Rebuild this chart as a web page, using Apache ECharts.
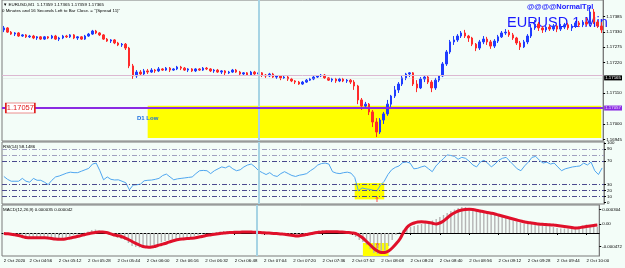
<!DOCTYPE html>
<html><head><meta charset="utf-8">
<script src="https://cdn.jsdelivr.net/npm/echarts@6/dist/echarts.min.js"></script>
<style>html,body{margin:0;padding:0;background:#f3fdf8}#c{width:625px;height:268px}</style>
</head><body><div id="c"></div>
<script>
// ---- categories: 2-minute bars starting 04:42 ----
const firstBar = '04:42';
const barMinutes = 2;
const barCount = 163;
const categories = [];
(function(){ let m = 4*60+42; for (let k=0;k<barCount;k++,m+=barMinutes){ categories.push(String(Math.floor(m/60)).padStart(2,'0')+':'+String(m%60).padStart(2,'0')); } })();

const timeTickLabels = ['2 Oct 2020','2 Oct 04:56','2 Oct 05:12','2 Oct 05:28','2 Oct 05:44','2 Oct 06:00','2 Oct 06:16','2 Oct 06:32','2 Oct 06:48','2 Oct 07:04','2 Oct 07:20','2 Oct 07:36','2 Oct 07:52','2 Oct 08:08','2 Oct 08:24','2 Oct 08:40','2 Oct 08:56','2 Oct 09:12','2 Oct 09:28','2 Oct 09:44','2 Oct 10:00'];
const priceTicks = [1.17385,1.17330,1.17275,1.17220,1.17110,1.17000,1.16945];
const rsiTicks = [100,90,70,30,20,10,0];
const rsiLevels = [90,80,70,30,20,10];
const macdTicks = [0.000304,0,-0.000472];
const macdTickLabels = ['0.000304','0.00','-0.000472'];
const hLineLevel = 1.17057;
const bidLevel = 1.17165;
const pinkLevel = 1.17175;
const d1Low = [1.17065, 1.16950];

// ---- candles [open, close, low, high] ----
const candles = [
[1.17337,1.17344,1.17329,1.17351],[1.17344,1.17329,1.17326,1.17347],[1.17329,1.17322,1.17319,1.17333],[1.17322,1.17326,1.17315,1.17329],[1.17326,1.17315,1.17312,1.17329],
[1.17315,1.17319,1.17312,1.17322],[1.17319,1.17312,1.17308,1.17322],[1.17312,1.17315,1.17308,1.17319],[1.17315,1.17308,1.17304,1.17319],[1.17308,1.17312,1.17301,1.17315],
[1.17312,1.17304,1.17301,1.17315],[1.17304,1.17312,1.17301,1.17315],[1.17312,1.17308,1.17304,1.17315],[1.17308,1.17315,1.17304,1.17319],[1.17315,1.17304,1.17301,1.17319],
[1.17304,1.17308,1.17297,1.17312],[1.17308,1.17315,1.17304,1.17319],[1.17315,1.17312,1.17308,1.17319],[1.17312,1.17319,1.17308,1.17322],[1.17319,1.17308,1.17304,1.17322],
[1.17308,1.17312,1.17301,1.17315],[1.17312,1.17304,1.17301,1.17315],[1.17304,1.17315,1.17301,1.17319],[1.17315,1.17322,1.17312,1.17326],[1.17322,1.17333,1.17319,1.17337],
[1.17333,1.17326,1.17322,1.17337],[1.17326,1.17319,1.17315,1.17329],[1.17319,1.17304,1.17301,1.17322],[1.17304,1.17297,1.17294,1.17308],[1.17297,1.17301,1.17290,1.17304],
[1.17301,1.17290,1.17286,1.17304],[1.17290,1.17283,1.17279,1.17294],[1.17283,1.17286,1.17276,1.17290],[1.17286,1.17272,1.17265,1.17290],[1.17272,1.17208,1.17200,1.17276],
[1.17208,1.17172,1.17161,1.17215],[1.17172,1.17186,1.17165,1.17193],[1.17186,1.17179,1.17172,1.17193],[1.17179,1.17190,1.17175,1.17197],[1.17190,1.17186,1.17179,1.17197],
[1.17186,1.17193,1.17183,1.17200],[1.17193,1.17190,1.17183,1.17197],[1.17190,1.17197,1.17186,1.17204],[1.17197,1.17193,1.17190,1.17200],[1.17193,1.17200,1.17190,1.17204],
[1.17200,1.17193,1.17186,1.17204],[1.17193,1.17197,1.17190,1.17200],[1.17197,1.17204,1.17193,1.17208],[1.17204,1.17200,1.17193,1.17208],[1.17200,1.17193,1.17190,1.17204],
[1.17193,1.17197,1.17186,1.17200],[1.17197,1.17190,1.17186,1.17200],[1.17190,1.17197,1.17186,1.17200],[1.17197,1.17193,1.17190,1.17200],[1.17193,1.17200,1.17190,1.17204],
[1.17200,1.17197,1.17193,1.17204],[1.17197,1.17190,1.17186,1.17200],[1.17190,1.17193,1.17183,1.17197],[1.17193,1.17186,1.17183,1.17197],[1.17186,1.17190,1.17179,1.17193],
[1.17190,1.17183,1.17175,1.17193],[1.17183,1.17186,1.17179,1.17190],[1.17186,1.17193,1.17183,1.17197],[1.17193,1.17186,1.17183,1.17197],[1.17186,1.17179,1.17175,1.17190],
[1.17179,1.17183,1.17172,1.17186],[1.17183,1.17175,1.17172,1.17186],[1.17175,1.17186,1.17172,1.17190],[1.17186,1.17179,1.17175,1.17190],[1.17179,1.17183,1.17172,1.17186],
[1.17183,1.17175,1.17168,1.17186],[1.17175,1.17172,1.17165,1.17179],[1.17172,1.17179,1.17168,1.17183],[1.17179,1.17168,1.17165,1.17183],[1.17168,1.17172,1.17161,1.17175],
[1.17172,1.17165,1.17157,1.17175],[1.17165,1.17168,1.17161,1.17172],[1.17168,1.17161,1.17154,1.17172],[1.17161,1.17154,1.17150,1.17165],[1.17154,1.17150,1.17143,1.17157],
[1.17150,1.17143,1.17140,1.17154],[1.17143,1.17150,1.17140,1.17154],[1.17150,1.17157,1.17147,1.17161],[1.17157,1.17161,1.17154,1.17165],[1.17161,1.17168,1.17157,1.17172],
[1.17168,1.17172,1.17165,1.17175],[1.17172,1.17175,1.17168,1.17179],[1.17175,1.17165,1.17161,1.17179],[1.17165,1.17157,1.17154,1.17168],[1.17157,1.17161,1.17150,1.17165],
[1.17161,1.17154,1.17147,1.17165],[1.17154,1.17161,1.17150,1.17165],[1.17161,1.17154,1.17150,1.17165],[1.17154,1.17157,1.17147,1.17161],[1.17157,1.17150,1.17143,1.17161],
[1.17150,1.17136,1.17122,1.17157],[1.17136,1.17086,1.17071,1.17140],[1.17086,1.17064,1.17050,1.17093],[1.17064,1.17071,1.17057,1.17079],[1.17071,1.17043,1.17032,1.17075],
[1.17043,1.17007,1.16989,1.17050],[1.17007,1.16971,1.16953,1.17021],[1.16971,1.17014,1.16964,1.17021],[1.17014,1.17036,1.17000,1.17043],[1.17036,1.17071,1.17029,1.17086],
[1.17071,1.17100,1.17061,1.17104],[1.17100,1.17122,1.17093,1.17136],[1.17122,1.17143,1.17111,1.17150],[1.17143,1.17165,1.17136,1.17172],[1.17165,1.17179,1.17157,1.17183],
[1.17179,1.17183,1.17168,1.17186],[1.17183,1.17143,1.17136,1.17186],[1.17143,1.17129,1.17114,1.17157],[1.17129,1.17161,1.17125,1.17168],[1.17161,1.17168,1.17150,1.17175],
[1.17168,1.17150,1.17143,1.17172],[1.17150,1.17129,1.17114,1.17157],[1.17129,1.17157,1.17122,1.17165],[1.17157,1.17172,1.17150,1.17175],[1.17172,1.17215,1.17168,1.17222],
[1.17215,1.17258,1.17208,1.17265],[1.17258,1.17294,1.17251,1.17301],[1.17294,1.17301,1.17283,1.17315],[1.17301,1.17315,1.17294,1.17322],[1.17315,1.17326,1.17308,1.17333],
[1.17326,1.17315,1.17308,1.17337],[1.17315,1.17308,1.17294,1.17319],[1.17308,1.17286,1.17279,1.17312],[1.17286,1.17272,1.17261,1.17290],[1.17272,1.17294,1.17265,1.17301],
[1.17294,1.17304,1.17286,1.17315],[1.17304,1.17294,1.17283,1.17312],[1.17294,1.17279,1.17269,1.17301],[1.17279,1.17297,1.17272,1.17304],[1.17297,1.17312,1.17290,1.17319],
[1.17312,1.17326,1.17308,1.17333],[1.17326,1.17329,1.17319,1.17340],[1.17329,1.17319,1.17312,1.17337],[1.17319,1.17308,1.17301,1.17326],[1.17308,1.17290,1.17283,1.17312],
[1.17290,1.17276,1.17265,1.17297],[1.17276,1.17294,1.17272,1.17301],[1.17294,1.17315,1.17286,1.17322],[1.17315,1.17344,1.17308,1.17358],[1.17344,1.17358,1.17337,1.17372],
[1.17358,1.17344,1.17333,1.17365],[1.17344,1.17337,1.17326,1.17351],[1.17337,1.17347,1.17329,1.17355],[1.17347,1.17340,1.17333,1.17355],[1.17340,1.17351,1.17333,1.17358],
[1.17351,1.17340,1.17329,1.17355],[1.17340,1.17347,1.17333,1.17358],[1.17347,1.17355,1.17340,1.17362],[1.17355,1.17344,1.17337,1.17362],[1.17344,1.17351,1.17333,1.17358],
[1.17351,1.17362,1.17344,1.17369],[1.17362,1.17355,1.17347,1.17369],[1.17355,1.17365,1.17347,1.17372],[1.17365,1.17358,1.17351,1.17380],[1.17358,1.17401,1.17351,1.17419],
[1.17401,1.17365,1.17358,1.17412],[1.17365,1.17351,1.17344,1.17372],[1.17351,1.17337,1.17326,1.17365]
];

// ---- RSI(14) ----
const rsi = [
43.8,39,35.8,35.8,35.8,40.6,35.8,34.2,40.6,37.4,
37.4,34.2,30.2,37.4,43,44.6,47,49.4,51,50.2,
50.2,52.6,55,57.4,64.6,66.2,53.4,38.2,43,39,
37.9,38.2,35.8,33.4,21.4,29.4,29.9,31,36.6,37.4,
37.8,39,40.6,45.4,47.8,43,38.2,39.8,40.6,41.4,
42.2,43,48.6,53.4,53.9,53.4,48.6,53.4,56.6,59.8,
58.2,61.4,56.6,53.4,55,59.8,63,64.6,59.8,53.4,
50.2,47,50.2,45.4,43.8,48.6,51.8,48.6,45.4,43.8,
45.9,47,48.6,53.4,57.4,63,65.4,66.2,64.6,51.8,
49.4,48.6,50.2,51,49.4,42.2,19.8,24.6,23,22.2,
20.6,19.8,29.4,35.8,47,55,59,61.4,67,68.2,
66.2,56.6,57.4,59.8,61.4,56.6,51.8,61.4,67.8,73.4,
79.8,79,77.4,72.6,75.8,74.2,69.4,63,59.8,67.8,
71,66.2,59.8,64.6,71,74.2,75.8,69.4,63,56.6,
53.4,61.4,67.8,75.8,77.4,71,66.2,67.8,64.6,66.2,
59.8,53.4,56.6,58.2,59.8,60.6,61.4,66.2,63,67.8,
53.4,47,58.1
];

// ---- MACD(12,26,9), values in millionths ----
const macdSignalE6 = [
-10,-16,-24,-36,-50,-70,-90,-94,-96,-96,
-94,-96,-100,-110,-120,-124,-126,-116,-100,-86,
-70,-52,-34,-16,0,12,20,20,10,-12,
-36,-52,-70,-96,-130,-170,-206,-240,-270,-280,
-284,-272,-250,-230,-210,-184,-160,-140,-124,-118,
-112,-106,-100,-86,-70,-54,-40,-30,-20,-10,
0,6,10,14,16,18,20,20,16,14,
10,4,0,-4,-10,-16,-20,-30,-40,-50,
-60,-52,-40,-24,-10,4,14,20,24,26,
26,24,20,16,10,2,-10,-50,-100,-170,
-240,-310,-360,-390,-390,-360,-300,-220,-130,0,
110,170,200,220,226,220,210,196,180,200,
240,300,360,404,440,460,470,474,470,456,
440,424,410,396,380,360,340,320,300,280,
260,240,224,210,200,190,180,174,170,164,
160,150,140,130,120,110,100,104,120,130,
140,150,160
];
const macdHistE6 = [
-20,-30,-40,-60,-80,-90,-100,-90,-80,-90,
-100,-110,-120,-130,-130,-120,-100,-80,-60,-40,
-30,-10,10,30,60,70,50,10,-10,-40,
-70,-100,-120,-140,-200,-260,-280,-290,-290,-280,
-260,-240,-220,-190,-160,-140,-130,-120,-110,-100,
-90,-80,-60,-40,-20,-10,0,10,20,30,
40,40,30,20,20,30,40,40,30,10,
0,-10,-20,-30,-40,-40,-40,-50,-60,-70,
-70,-60,-40,-10,10,30,50,60,50,40,
30,20,20,10,0,-20,-80,-140,-180,-240,
-320,-400,-420,-400,-360,-260,-140,-40,20,60,
90,120,140,160,180,200,220,250,280,320,
360,400,440,470,500,520,520,490,460,450,
440,420,390,380,370,360,340,310,280,250,
220,200,190,210,220,200,180,160,150,140,
120,100,90,90,90,100,100,110,120,170,
160,130,120
];

const FONT = "'Liberation Sans', Arial, sans-serif";
const SMALL = 4.4;
const labelInterval = (idx) => idx === 0 || (idx - 7) % 8 === 0;
const vline = categories[69];

const chart = echarts.init(document.getElementById('c'));
const gridBase = {left:2, right:21, show:true, borderColor:'#7a7a7a', borderWidth:1, backgroundColor:'transparent'};
const vMark = {symbol:['none','none'], silent:true, animation:false, label:{show:false},
  data:[{xAxis:vline, lineStyle:{color:'#a6d4e4', width:2, type:'solid'}}]};

chart.setOption({
  animation:false,
  backgroundColor:'#f3fdf8',
  textStyle:{fontFamily:FONT},
  title:[
    {text:'\u25BC EURUSD,M1  1.17359 1.17365 1.17359 1.17365', left:3, top:2.5, padding:0, textStyle:{fontSize:SMALL, fontWeight:'normal', color:'#000', fontFamily:FONT}},
    {text:'0 Minutes and 16 Seconds Left to Bar Close. = "(Spread 11)"', left:2, top:8.5, padding:0, textStyle:{fontSize:SMALL, fontWeight:'normal', color:'#000', fontFamily:FONT}},
    {text:'@@@@NormalTpl', left:527, top:3, padding:0, z:1, textStyle:{fontSize:7.5, fontWeight:'bold', color:'#1a1aff', fontFamily:FONT}},
    {text:'EURUSD 1 Min', left:507, top:15, padding:0, z:1, textStyle:{fontSize:14.5, fontWeight:'normal', color:'#1a1aff', fontFamily:FONT}},
    {text:'RSI(14) 58.1486', left:3, top:144.5, padding:0, textStyle:{fontSize:SMALL, fontWeight:'normal', color:'#000', fontFamily:FONT}},
    {text:'MACD(12,26,9) 0.000035 0.000042', left:3, top:207.5, padding:0, textStyle:{fontSize:SMALL, fontWeight:'normal', color:'#000', fontFamily:FONT}}
  ],
  grid:[
    Object.assign({top:0, height:141}, gridBase),
    Object.assign({top:142, height:62}, gridBase),
    Object.assign({top:205, height:51}, gridBase)
  ],
  xAxis:[0,1,2].map(k => ({
    type:'category', gridIndex:k, data:categories, boundaryGap:true,
    axisLine:{show:k===2, lineStyle:{color:'#000', width:1}},
    axisTick: k===2 ? {show:true, interval:labelInterval, alignWithLabel:true, length:2, lineStyle:{color:'#000'}} : {show:false},
    axisLabel: k===2 ? {show:true, interval:labelInterval, align:'left', margin:3, fontSize:SMALL, color:'#000', fontFamily:FONT,
      formatter:(v, idx) => idx === 0 ? timeTickLabels[0] : timeTickLabels[(idx-7)/8 + 1]} : {show:false},
    splitLine:{show:false}
  })),
  yAxis:[
    {type:'value', gridIndex:0, position:'right', min:1.169389, max:1.174441,
     axisLine:{show:true, lineStyle:{color:'#7a7a7a'}}, splitLine:{show:false},
     axisTick:{show:true, customValues:priceTicks, length:2, lineStyle:{color:'#000'}},
     axisLabel:{show:true, customValues:priceTicks, formatter:v => v.toFixed(5), fontSize:SMALL, color:'#000', margin:3, fontFamily:FONT}},
    {type:'value', gridIndex:1, position:'right', min:-2.3, max:101.5,
     axisLine:{show:true, lineStyle:{color:'#7a7a7a'}}, splitLine:{show:false},
     axisTick:{show:true, customValues:rsiTicks, length:2, lineStyle:{color:'#000'}},
     axisLabel:{show:true, customValues:rsiTicks, formatter:v => String(v), fontSize:SMALL, color:'#000', margin:3, fontFamily:FONT}},
    {type:'value', gridIndex:2, position:'right', min:-460, max:560, show:false, splitLine:{show:false}},
    {type:'value', gridIndex:2, position:'right', min:-0.000667, max:0.000396,
     axisLine:{show:true, lineStyle:{color:'#7a7a7a'}}, splitLine:{show:false},
     axisTick:{show:true, customValues:macdTicks, length:2, lineStyle:{color:'#000'}},
     axisLabel:{show:true, customValues:macdTicks, formatter:v => macdTickLabels[macdTicks.findIndex(t => Math.abs(t - v) < 1e-9)] || '', fontSize:SMALL, color:'#000', margin:3, fontFamily:FONT}}
  ],
  series:[
    {
      type:'candlestick', xAxisIndex:0, yAxisIndex:0, data:candles, barWidth:2, z:3,
      itemStyle:{color:'#1f3cff', color0:'#ff2a2a', borderColor:'#1f3cff', borderColor0:'#ff2a2a', borderWidth:1},
      markArea:{silent:true, itemStyle:{color:'#ffff00', opacity:1},
        data:[[{xAxis:categories[39], yAxis:d1Low[0]}, {xAxis:categories[barCount-1], yAxis:d1Low[1]}]]},
      markLine:{symbol:['none','none'], silent:true, animation:false,
        data:[{xAxis:vline, lineStyle:{color:'#a6d4e4', width:2, type:'solid'}, label:{show:false}}]},
      markPoint:{silent:true, animation:false,
        data:[
          {coord:[categories[0], hLineLevel], symbol:'rect', symbolSize:[29,10], symbolOffset:[16.5,0],
            itemStyle:{color:'#ffffff', borderColor:'#e02020', borderWidth:1},
            label:{show:true, position:'inside', formatter:'1.17057', color:'#e02020', fontSize:7.5, fontFamily:FONT}},
          {coord:[categories[39], 1.17019], symbol:'circle', symbolSize:0,
            label:{show:true, position:'inside', formatter:'D1 Low', color:'#1a6fe0', fontWeight:'bold', fontSize:6, fontFamily:FONT}}
        ]}
    },
    {
      // horizontal price lines of the main window
      type:'line', xAxisIndex:0, yAxisIndex:0, data:[], z:4, silent:true,
      markLine:{symbol:['none','none'], silent:true, animation:false, precision:5,
        data:[
          {yAxis:pinkLevel, lineStyle:{color:'#dcb8d2', width:1, type:'solid'}, label:{show:false}},
          {yAxis:bidLevel, lineStyle:{color:'rgba(200,200,200,0.25)', width:1, type:'solid'},
            label:{show:true, position:'end', distance:1, formatter:'1.17165', backgroundColor:'#000', color:'#fff', padding:[1,1,0,1], fontSize:SMALL, fontFamily:FONT}},
          {yAxis:hLineLevel, lineStyle:{color:'#8a2be2', width:2, type:'solid'},
            label:{show:true, position:'end', distance:1, formatter:'1.17057', backgroundColor:'#8a2be2', color:'#f0e0ff', padding:[1,1,0,1], fontSize:SMALL, fontFamily:FONT}}
        ]}
    },
    {
      type:'line', xAxisIndex:1, yAxisIndex:1, data:rsi, symbol:'none', z:3,
      lineStyle:{color:'#4fa6f0', width:1}, itemStyle:{color:'#4fa6f0'},
      markArea:{silent:true, itemStyle:{color:'#ffff00', opacity:1},
        data:[[{xAxis:categories[95], yAxis:32.6}, {xAxis:categories[103], yAxis:5.4}]]},
      markLine:{symbol:['none','none'], silent:true, animation:false, label:{show:false},
        data:rsiLevels.map(l => ({yAxis:l, lineStyle:{color: l >= 80 ? '#a0a0c0' : '#4a4a8e', width:1, type:[5,2,1,2]}}))
          .concat([{xAxis:vline, lineStyle:{color:'#a6d4e4', width:2, type:'solid'}}])},
      markPoint:{silent:true, data:[{coord:[categories[101], 4], symbol:'circle', symbolSize:0,
        label:{show:true, position:'inside', formatter:'\u21D1', color:'#ff3030', fontSize:7, fontFamily:'DejaVu Sans'}}]}
    },
    {
      type:'bar', xAxisIndex:2, yAxisIndex:2, data:macdHistE6, barWidth:1.4, z:2,
      itemStyle:{color:'#b4b4b4'},
      markLine:vMark
    },
    {
      type:'line', xAxisIndex:2, yAxisIndex:2, data:macdSignalE6, symbol:'none', smooth:0.4, z:4,
      lineStyle:{color:'#e0102a', width:3}, itemStyle:{color:'#e0102a'},
      markArea:{silent:true, itemStyle:{color:'#ffff00', opacity:1},
        data:[[{xAxis:categories[98], yAxis:-200}, {xAxis:categories[105], yAxis:-460}]]},
      markPoint:{silent:true, data:[{coord:[categories[102], -265], symbol:'circle', symbolSize:0,
        label:{show:true, position:'inside', formatter:'\u21D1', color:'#ff3030', fontSize:7, fontFamily:'DejaVu Sans'}}]}
    }
  ]
});
</script></body></html>
